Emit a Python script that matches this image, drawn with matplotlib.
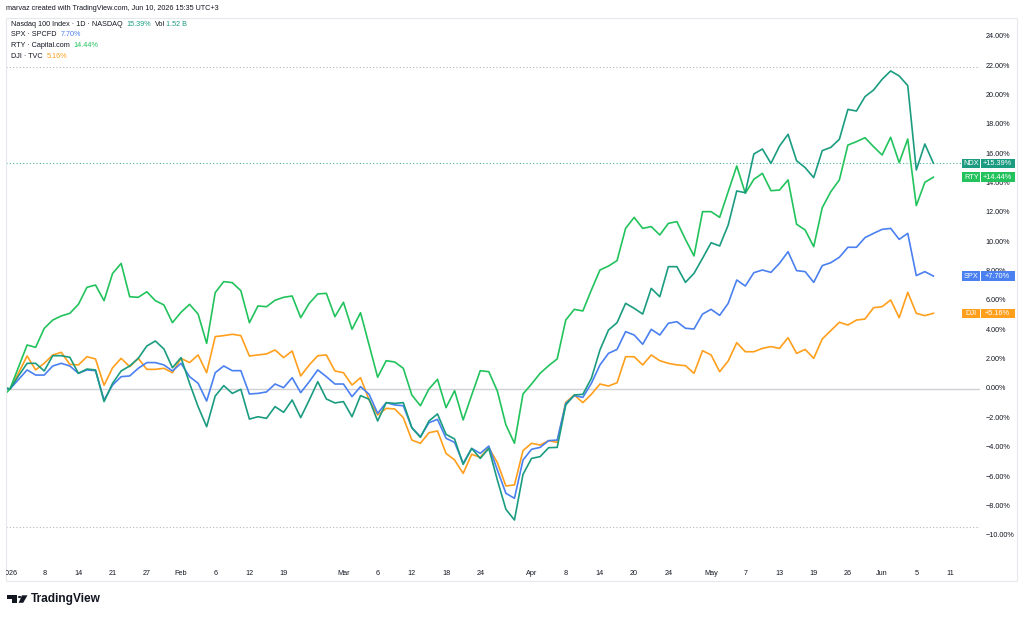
import numpy as np
import pandas as pd
import matplotlib
matplotlib.use('Agg')
import matplotlib.pyplot as plt
from matplotlib.transforms import Bbox, TransformedBbox
from matplotlib.patches import Rectangle, Polygon, Circle

# ---------------- data ----------------
holidays = ['2026-01-01', '2026-01-19', '2026-02-16', '2026-04-03', '2026-05-25']
dates = [d for d in pd.bdate_range('2025-12-31', '2026-06-09')
         if d.strftime('%Y-%m-%d') not in holidays]

ndx = [0.2,
       0, 0.9, 1.75, 1.75, 1.23, 2.27, 2.27, 2.16, 1.07, 1.36, 1.30, -0.86, 0.39, 1.23, 1.57, 2.09, 2.93, 3.27, 2.73, 1.45,
       2.14, 0.39, -1.20, -2.57, -0.48, 0.23, -0.30, -0.02, -2.05, -1.89, -2.00, -1.20, -1.59, -0.75, -1.95, -0.75, 0.50, -0.68, -0.95,
       -0.86, -1.89, -0.45, -0.70, -2.18, -0.93, -0.98, -0.93, -2.64, -3.30, -2.18, -1.70, -3.09, -3.41, -5.14, -4.05, -4.73, -4.05, -6.20, -8.20, -8.93, -5.82,
       -4.73, -4.61, -4.00, -3.98, -1.09, -0.41, -0.36, 0.73, 2.66, 4.02, 4.52, 5.84, 5.50, 5.11, 6.86, 6.29, 8.34, 8.34, 7.27, 7.88, 8.91,
       9.97, 9.75, 11.18, 13.50, 13.38, 16.02, 16.36, 15.38, 16.56, 17.36, 15.56, 15.09, 14.41, 16.25, 16.47, 17.02, 19.06, 18.95, 19.93, 20.38,
       21.11, 21.68, 21.34, 20.68, 14.93, 16.70, 15.39]

spx = [0.0,
       0, 0.65, 1.30, 0.95, 0.95, 1.57, 1.75, 1.57, 1.07, 1.30, 1.25, -0.75, 0.27, 0.84, 0.89, 1.41, 1.80, 1.80, 1.64, 1.23,
       1.75, 0.84, 0.39, -0.82, 1.11, 1.57, 1.25, 1.25, -0.34, -0.30, -0.20, 0.34, 0.09, 0.77, -0.25, 0.50, 1.30, 0.84, 0.34,
       0.34, -0.52, 0.16, -0.36, -1.66, -0.93, -1.09, -1.14, -2.64, -3.25, -2.30, -2.07, -3.36, -3.64, -5.07, -4.05, -4.39, -3.89, -5.52, -7.11, -7.45, -4.84,
       -4.11, -3.98, -3.52, -3.48, -0.98, -0.45, -0.57, 0.39, 1.64, 2.43, 2.70, 3.91, 3.68, 3.05, 4.07, 3.68, 4.48, 4.59, 4.14, 4.09, 5.11,
       5.43, 5.02, 5.84, 7.43, 7.02, 7.93, 8.11, 7.95, 8.57, 9.36, 8.07, 8.00, 7.27, 8.41, 8.61, 8.98, 9.66, 9.66, 10.32, 10.61,
       10.88, 10.95, 10.20, 10.61, 7.73, 8.00, 7.70]

rty = [-0.6,
       0, 1.5, 3.0, 2.84, 4.13, 4.70, 4.98, 5.16, 5.77, 6.93, 7.09, 6.02, 7.88, 8.56, 6.29, 6.25, 6.63, 6.02, 5.73, 4.52,
       5.23, 5.77, 5.11, 3.11, 6.57, 7.32, 7.25, 6.70, 4.52, 5.66, 5.61, 6.05, 6.25, 6.34, 4.86, 5.84, 6.48, 6.52, 4.93,
       5.91, 4.07, 5.20, 3.00, 0.80, 1.93, 1.84, 1.41, -0.41, -1.14, 0.00, 0.66, -1.27, -0.11, -2.11, -0.41, 1.25, 1.18, -0.14, -2.45, -3.70, -0.34,
       0.34, 1.07, 1.59, 2.05, 4.70, 5.43, 5.32, 6.75, 8.11, 8.38, 8.75, 10.95, 11.70, 10.95, 11.07, 10.50, 11.29, 11.41, 10.20, 9.07, 12.09,
       12.09, 11.70, 13.45, 15.20, 13.34, 14.29, 14.70, 13.52, 13.56, 14.25, 11.23, 10.84, 9.70, 12.36, 13.45, 14.25, 16.63, 16.86, 17.13, 16.52,
       15.95, 17.16, 15.43, 17.04, 12.50, 14.09, 14.44]

dji = [-0.1,
       0, 1.1, 2.25, 1.30, 1.75, 2.32, 2.50, 1.68, 1.64, 2.20, 2.05, 0.25, 1.45, 2.09, 1.52, 2.09, 1.34, 1.34, 1.41, 1.11,
       2.09, 1.80, 2.32, 1.11, 3.57, 3.64, 3.73, 3.64, 2.25, 2.32, 2.39, 2.66, 2.14, 2.59, 0.89, 1.64, 2.27, 2.32, 1.23,
       1.11, 0.27, 0.77, -0.75, -1.77, -1.32, -1.36, -1.95, -3.48, -3.70, -2.98, -2.86, -4.39, -4.84, -5.75, -4.45, -4.66, -4.00, -5.02, -6.61, -6.54, -4.20,
       -3.70, -3.82, -3.52, -3.64, -0.91, -0.41, -0.93, -0.36, 0.34, 0.20, 0.43, 2.20, 2.20, 1.64, 2.32, 1.93, 1.75, 1.64, 1.59, 1.07, 2.61,
       2.32, 1.18, 1.91, 3.16, 2.54, 2.54, 2.77, 2.89, 2.77, 3.50, 2.43, 2.70, 2.09, 3.41, 3.98, 4.55, 4.36, 4.70, 4.77, 5.54,
       5.61, 6.07, 4.86, 6.59, 5.16, 5.00, 5.16]

symbols = ['NDX', 'RTY', 'SPX', 'DJI']
last_labels = ['+15.39%', '+14.44%', '+7.70%', '+5.16%']
colors = {'NDX': '#1b9c80', 'RTY': '#22c35d', 'SPX': '#4a80f0', 'DJI': '#ff9f1c'}
series = {'NDX': ndx, 'RTY': rty, 'SPX': spx, 'DJI': dji}

tick_dates = ['2026-01-02', '2026-01-08', '2026-01-14', '2026-01-21', '2026-01-27', '2026-02-02', '2026-02-06',
              '2026-02-12', '2026-02-19', '2026-03-02', '2026-03-06', '2026-03-12', '2026-03-18', '2026-03-24',
              '2026-04-01', '2026-04-08', '2026-04-14', '2026-04-20', '2026-04-24', '2026-05-01', '2026-05-07',
              '2026-05-13', '2026-05-19', '2026-05-26', '2026-06-01', '2026-06-05', '2026-06-11']
tick_labels = ['2026', '8', '14', '21', '27', 'Feb', '6', '12', '19', 'Mar', '6', '12', '18', '24',
               'Apr', '8', '14', '20', '24', 'May', '7', '13', '19', '26', 'Jun', '5', '11']
y_ticks = list(range(-10, 25, 2))
hi_level, lo_level = 21.97, -9.39

# ---------------- figure ----------------
W, H = 1024, 618
fig = plt.figure(figsize=(W / 100, H / 100), dpi=100)
fig.patch.set_facecolor('white')
FONT = ['Liberation Sans', 'DejaVu Sans']
TXT = '#131722'
FS = 5.2

def fx(x):
    return x / W

def fy(y):
    return 1 - y / H

pane_l, pane_r, pane_t, pane_b = 5.5, 980, 17.5, 563
ax = fig.add_axes([fx(pane_l), fy(pane_b), (pane_r - pane_l) / W, (pane_b - pane_t) / H])
ax.set_facecolor('none')
for s in ax.spines.values():
    s.set_visible(False)
ax.set_xticks([])
ax.set_yticks([])

# x mapping: trading-day index (Jan 2 = 0), 8.55 px per bar, Jan 2 at x=10px
idx = np.arange(len(dates)) - 1
pxbar = 8.55
ax.set_xlim((pane_l - 10) / pxbar, (pane_r - 10) / pxbar)
pxpct = 14.67
ax.set_ylim((389 - pane_b) / pxpct, (389 - pane_t) / pxpct)

ax.axhline(0, color='#cfd1d6', lw=1.0, zorder=1)
ax.axhline(hi_level, color='#b2b5be', lw=0.8, ls=(0, (1, 2)), zorder=1)
ax.axhline(lo_level, color='#b2b5be', lw=0.8, ls=(0, (1, 2)), zorder=1)
ax.plot([ax.get_xlim()[0], (962 - 10) / pxbar], [ndx[-1]] * 2, color=colors['NDX'], lw=0.8,
        ls=(0, (1, 2)), zorder=1, alpha=0.8)

for sym in ['DJI', 'SPX', 'RTY', 'NDX']:
    ax.plot(idx, series[sym], color=colors[sym], lw=1.2, zorder=3, solid_joinstyle='round')

# outer border
fig.add_artist(Rectangle((fx(pane_l), fy(581)), fx(1017 - pane_l), (581 - pane_t) / H,
                         transform=fig.transFigure, fill=False, ec='#e6e8ee', lw=0.8))

# x labels
date_pos = {d.strftime('%Y-%m-%d'): i for d, i in zip(dates, idx)}
last_i = idx[-1]
last_day = dates[-1]
clipbox = TransformedBbox(Bbox([[fx(pane_l), 0], [fx(1017), 1]]), fig.transFigure)
for d, lab in zip(tick_dates, tick_labels):
    if d in date_pos:
        pos = date_pos[d]
    else:
        extra = len(pd.bdate_range(last_day, d)) - 1
        pos = last_i + extra
    xpix = 10 + pos * pxbar
    t = fig.text(fx(xpix), fy(573.5), lab, ha='center', va='center', fontsize=FS, color=TXT, family=FONT)
    t.set_clip_box(clipbox)
    t.set_clip_on(True)

# y labels
for v in y_ticks:
    ypix = 389 - v * pxpct
    lab = ('−' if v < 0 else '') + f'{abs(v):.2f}%'
    fig.text(fx(985.5), fy(ypix), lab, ha='left', va='center', fontsize=FS, color=TXT, family=FONT)

# badges
for sym, lab in zip(symbols, last_labels):
    v = series[sym][-1]
    yc = 389 - v * pxpct
    h = 9.4
    c = colors[sym]
    fig.add_artist(Rectangle((fx(962), fy(yc + h / 2)), fx(18.2), h / H, transform=fig.transFigure,
                             fc=c, ec='none', zorder=5))
    fig.add_artist(Rectangle((fx(980.8), fy(yc + h / 2)), fx(34.5), h / H, transform=fig.transFigure,
                             fc=c, ec='none', zorder=5))
    fig.text(fx(971.2), fy(yc), sym, ha='center', va='center', fontsize=5.3, color='white',
             family=FONT, zorder=6)
    fig.text(fx(997.5), fy(yc), lab, ha='center', va='center', fontsize=5.3, color='white',
             family=FONT, zorder=6)

# watermark + legend
fig.text(fx(5.7), fy(9), 'marvaz created with TradingView.com, Jun 10, 2026 15:35 UTC+3',
         ha='left', va='center', fontsize=FS, color=TXT, family=FONT)

fig.canvas.draw()
renderer = fig.canvas.get_renderer()

def seg_line(x0, y, parts):
    x = x0
    for txt, col, gap in parts:
        t = fig.text(fx(x), fy(y), txt, ha='left', va='center', fontsize=FS, color=col, family=FONT)
        bb = t.get_window_extent(renderer)
        x = x + bb.width + gap

seg_line(11, 25, [('Nasdaq 100 Index · 1D · NASDAQ', TXT, 4), ('15.39%', colors['NDX'], 4),
                  ('Vol', TXT, 0.3), ('1.52 B', colors['NDX'], 0)])
seg_line(11, 35, [('SPX · SPCFD', TXT, 4), ('7.70%', colors['SPX'], 0)])
seg_line(11, 45.7, [('RTY · Capital.com', TXT, 4), ('14.44%', colors['RTY'], 0)])
seg_line(11, 56, [('DJI · TVC', TXT, 4), ('5.16%', colors['DJI'], 0)])

# TradingView logo
logo_c = '#131722'
def P(pts):
    return [(fx(a), fy(b)) for a, b in pts]
fig.add_artist(Polygon(P([(7.4, 595.3), (17.3, 595.3), (17.3, 602.8), (12.4, 602.8), (12.4, 598.8), (7.4, 598.8)]),
                       closed=True, transform=fig.transFigure, fc=logo_c, ec='none'))
fig.add_artist(Polygon(P([(22.0, 595.3), (27.5, 595.3), (23.2, 602.8), (18.6, 602.8)]),
                       closed=True, transform=fig.transFigure, fc=logo_c, ec='none'))
fig.add_artist(Circle((fx(19.6), fy(597.0)), 1.7 / W, transform=fig.transFigure, fc=logo_c, ec='none'))
fig.text(fx(30.5), fy(599), 'TradingView', ha='left', va='center', fontsize=8.6, fontweight='bold',
         color=logo_c, family=FONT)

fig.savefig('out.png', dpi=100, facecolor='white')
